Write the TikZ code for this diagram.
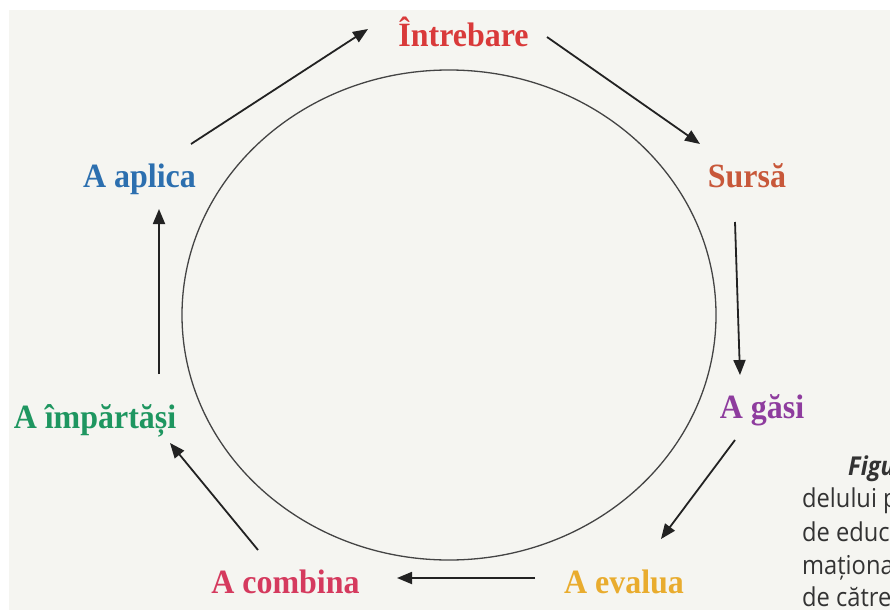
\documentclass[tikz,border=0pt]{standalone}
\usepackage{fontspec}
\setmainfont{Liberation Serif}
\newfontfamily\labfont[FakeStretch=0.94]{Liberation Serif}
\newfontfamily\capfont[FakeStretch=0.91]{Open Sans}
\usetikzlibrary{arrows.meta}
\definecolor{bggray}{HTML}{F5F5F1}
\definecolor{cintreb}{HTML}{D93A3A}
\definecolor{csursa}{HTML}{C8583A}
\definecolor{cgasi}{HTML}{8E3C9E}
\definecolor{cevalua}{HTML}{E9AC2E}
\definecolor{ccombina}{HTML}{D53A5E}
\definecolor{cimp}{HTML}{1E9660}
\definecolor{caplica}{HTML}{2C6FAF}
\definecolor{arrgray}{HTML}{222222}
\definecolor{ringgray}{HTML}{444444}
\definecolor{captext}{HTML}{333333}
\begin{document}
\begin{tikzpicture}[x=1pt,y=-1pt,
  lab/.style={font=\labfont\bfseries\fontsize{34}{34}\selectfont, anchor=base, inner sep=0pt},
  arr/.style={draw=arrgray, line width=1.8pt, -{Triangle[length=15pt,width=12pt]}},
  captxt/.style={font=\capfont\fontsize{26}{26}\selectfont, anchor=base west, inner sep=0pt, text=captext}]
\useasboundingbox (0,0) rectangle (890,610);
\fill[white] (0,0) rectangle (890,610);
\fill[bggray] (9,10) rectangle (890,610);
\draw[ringgray, line width=1.3pt] (449,315) ellipse [x radius=267, y radius=245];
% labels
\node[lab, text=cintreb] (intreb) at (463.5,47) {Întrebare};
\node[lab, text=csursa] (sursa) at (747,187) {Sursă};
\node[lab, text=cgasi] (gasi) at (762,418) {A găsi};
\node[lab, text=cevalua] (evalua) at (624,593) {A evalua};
\node[lab, text=ccombina] (combina) at (285.5,593) {A combina};
\node[lab, text=cimp] (imp) at (95,428) {A împărtăși};
\node[lab, text=caplica] (aplica) at (139.5,187) {A aplica};
% arrow ends
\coordinate (aplica-o) at (191,144);
\coordinate (intreb-i) at (368,29);
\coordinate (intreb-o) at (547,37);
\coordinate (sursa-i) at (700,144);
\coordinate (sursa-o) at (735,222);
\coordinate (gasi-i) at (740,375);
\coordinate (gasi-o) at (735,440);
\coordinate (evalua-i) at (661,539);
\coordinate (evalua-o) at (535,578);
\coordinate (combina-i) at (397,578);
\coordinate (combina-o) at (258,550);
\coordinate (imp-i) at (170,443);
\coordinate (imp-o) at (159,374);
\coordinate (aplica-i) at (159,209);
\draw[arr] (aplica-o) -- (intreb-i);
\draw[arr] (intreb-o) -- (sursa-i);
\draw[arr] (sursa-o) -- (gasi-i);
\draw[arr] (gasi-o) -- (evalua-i);
\draw[arr] (evalua-o) -- (combina-i);
\draw[arr] (combina-o) -- (imp-i);
\draw[arr] (imp-o) -- (aplica-i);
% caption (cut off at the right edge, as in the reference)
\node[captxt, font=\capfont\bfseries\itshape\fontsize{26}{26}\selectfont] (c1) at (848,475) {Figu};
\node[captxt] (c2) at (802,507) {delului p};
\node[captxt] (c3) at (802,541) {de educ};
\node[captxt] (c4) at (802,574) {maționa};
\node[captxt] (c5) at (802,606) {de către};
\end{tikzpicture}
\end{document}
